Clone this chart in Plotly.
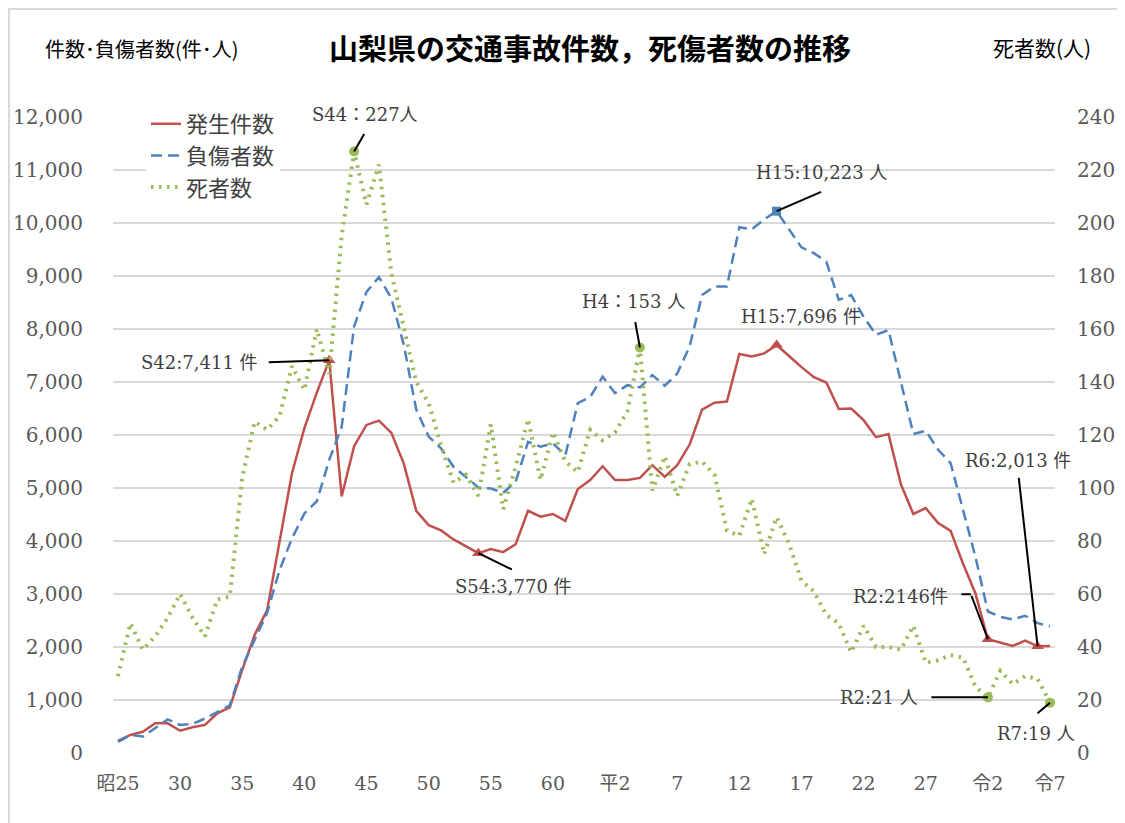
import plotly.graph_objects as go

# ---------------- data ----------------
years = list(range(1950, 2026))

accidents = [230, 340, 400, 560, 560, 420, 485, 530, 750, 860,
             1570, 2230, 2690, 3960, 5280, 6130, 6800, 7411, 4840, 5790,
             6190, 6270, 6040, 5460, 4570, 4300, 4200, 4030, 3900, 3770,
             3850, 3790, 3940, 4570, 4460, 4510, 4380, 4980, 5150, 5410,
             5150, 5150, 5190, 5430, 5210, 5430, 5820, 6480, 6610, 6630,
             7530, 7480, 7540, 7696, 7490, 7280, 7090, 6990, 6490, 6500,
             6280, 5960, 6020, 5070, 4510, 4620, 4340, 4190, 3570, 3010,
             2146, 2090, 2020, 2120, 2013, 2020]

injuries = [210, 340, 310, 465, 635, 530, 550, 650, 780, 900,
            1630, 2130, 2640, 3450, 4050, 4520, 4750, 5530, 6150, 8050,
            8700, 8980, 8580, 7700, 6480, 5970, 5750, 5400, 5210, 5010,
            4990, 4910, 5120, 5870, 5780, 5840, 5620, 6600, 6720, 7100,
            6790, 6940, 6900, 7130, 6930, 7160, 7670, 8640, 8800, 8800,
            9920, 9880, 10070, 10223, 9880, 9540, 9430, 9270, 8550, 8640,
            8230, 7890, 7980, 6980, 6020, 6080, 5720, 5470, 4590, 3700,
            2670, 2570, 2520, 2590, 2450, 2390]

deaths = [29, 49, 39, 44, 51, 60, 51, 44, 58, 59,
          104, 125, 122, 127, 146, 137, 160, 143, 195, 227,
          207, 222, 181, 160, 140, 132, 116, 102, 105, 97,
          124, 92, 108, 126, 103, 121, 110, 106, 122, 118,
          121, 129, 153, 99, 112, 97, 109, 110, 105, 84,
          82, 96, 75, 89, 79, 65, 61, 52, 49, 38,
          48, 40, 40, 39, 48, 34, 35, 37, 36, 25,
          21, 31, 26, 29, 28, 19]

tick_years = [1950, 1955, 1960, 1965, 1970, 1975, 1980, 1985, 1990,
              1995, 2000, 2005, 2010, 2015, 2020, 2025]
tick_labels = ["昭25", "30", "35", "40", "45", "50", "55", "60", "平2",
               "7", "12", "17", "22", "27", "令2", "令7"]

series_names = ["発生件数", "負傷者数", "死者数"]

red_mark_years = [1967, 1979, 2003, 2020, 2024]
blue_mark_years = [2003]
green_mark_years = [1969, 1992, 2020, 2025]

# ---------------- style ----------------
RED = "#c0504d"
BLUE = "#4f81bd"
GREEN = "#9bbb59"
GRID = "#d9d9d9"
TXT = "#404040"
NUM_FONT = "DejaVu Serif, Noto Sans CJK JP"
JP_FONT = "Noto Sans CJK JP"

OFF = 8  # page body margin of the html page
W, H = 1125 - OFF, 823 - OFF
ML, MT = 113 - OFF, 117 - OFF
PW, PH = 942, 636
MR, MB = W - ML - PW, H - MT - PH


def px_x(px):
    # screenshot pixel -> paper x
    return (px - OFF - ML) / PW


def px_y(py):
    # screenshot pixel -> paper y
    return (MT + PH - (py - OFF)) / PH


def val(arr, yr):
    return arr[years.index(yr)]


fig = go.Figure()
fig.add_trace(go.Scatter(x=years, y=accidents, name=series_names[0], mode="lines",
                         line=dict(color=RED, width=2.5)))
fig.add_trace(go.Scatter(x=years, y=injuries, name=series_names[1], mode="lines",
                         line=dict(color=BLUE, width=2.5, dash="11px,6px")))
fig.add_trace(go.Scatter(x=years, y=deaths, name=series_names[2], mode="lines", yaxis="y2",
                         line=dict(color=GREEN, width=4, dash="2.5px,5.5px")))

fig.add_trace(go.Scatter(x=red_mark_years, y=[val(accidents, y) for y in red_mark_years],
                         mode="markers", showlegend=False, hoverinfo="skip",
                         marker=dict(symbol="triangle-up", size=11, color=RED)))
fig.add_trace(go.Scatter(x=blue_mark_years, y=[val(injuries, y) for y in blue_mark_years],
                         mode="markers", showlegend=False, hoverinfo="skip",
                         marker=dict(symbol="square", size=9, color=BLUE)))
fig.add_trace(go.Scatter(x=green_mark_years, y=[val(deaths, y) for y in green_mark_years],
                         mode="markers", showlegend=False, hoverinfo="skip", yaxis="y2",
                         marker=dict(symbol="circle", size=10, color=GREEN)))

ann = []
afont = dict(family=NUM_FONT, size=18, color=TXT)


def label(text, yr, arr, yref, xs, ys, xanchor="center"):
    ann.append(dict(x=yr, y=val(arr, yr), xref="x", yref=yref, text=text, showarrow=False,
                    xshift=xs, yshift=ys, xanchor=xanchor, yanchor="middle", font=afont))


def leader(yr, arr, yref, ax, ay, xs=0, ys=0):
    ann.append(dict(x=yr, y=val(arr, yr), xref="x", yref=yref, text="", showarrow=True,
                    arrowhead=0, arrowwidth=2, arrowcolor="black", ax=ax, ay=ay,
                    xshift=xs, yshift=ys, standoff=0, startstandoff=0))


# S44 deaths 227
label("S44：227人", 1969, deaths, "y2", 11, 37)
leader(1969, deaths, "y2", 11, -19)
# S42 accidents
label("S42:7,411 件", 1967, accidents, "y", -69, -2, "right")
leader(1967, accidents, "y", -62, 2)
# S54 accidents
label("S54:3,770 件", 1979, accidents, "y", 35, -33)
leader(1979, accidents, "y", 35, 17)
# H4 deaths
label("H4：153 人", 1992, deaths, "y2", -6, 46)
leader(1992, deaths, "y2", -5, -27)
# H15 injuries
label("H15:10,223 人", 2003, injuries, "y", 45, 39)
leader(2003, injuries, "y", 46, -20)
# H15 accidents
label("H15:7,696 件", 2003, accidents, "y", 24, 29)
# R6 accidents
label("R6:2,013 件", 2024, accidents, "y", -20, 186)
leader(2024, accidents, "y", -19, -170)
# R2 accidents (elbow)
label("R2:2146件", 2020, accidents, "y", -38, 43, "right")
leader(2020, accidents, "y", -17, -45)
leader(2020, accidents, "y", -11, 0, xs=-17, ys=45)
# R2 deaths
label("R2:21 人", 2020, deaths, "y2", -68, 0, "right")
leader(2020, deaths, "y2", -58, 0)
# R7 deaths
label("R7:19 人", 2025, deaths, "y2", -14, -31)
leader(2025, deaths, "y2", -14, 12)

# axis titles
ann.append(dict(x=px_x(142), y=px_y(48), xref="paper", yref="paper", showarrow=False,
                text="件数･負傷者数(件･人)", font=dict(family=JP_FONT, size=20, color="#000000"),
                xanchor="center", yanchor="middle"))
ann.append(dict(x=px_x(1042), y=px_y(47), xref="paper", yref="paper", showarrow=False,
                text="死者数(人)", font=dict(family=JP_FONT, size=21, color="#000000"),
                xanchor="center", yanchor="middle"))

fig.update_layout(
    width=W, height=H,
    margin=dict(l=ML, r=MR, t=MT, b=MB, autoexpand=False),
    paper_bgcolor="white", plot_bgcolor="white",
    title=dict(text="<b>山梨県の交通事故件数，死傷者数の推移</b>",
               x=(590 - OFF) / W, y=1 - (50 - OFF) / H,
               xanchor="center", yanchor="middle",
               font=dict(family=JP_FONT, size=29, color="#000000")),
    xaxis=dict(range=[1949.6, 2025.4], tickvals=tick_years, ticktext=tick_labels,
               showgrid=False, zeroline=False, showline=False, ticks="",
               ticklabelstandoff=17,
               tickfont=dict(family=NUM_FONT, size=19, color="#595959")),
    yaxis=dict(range=[0, 12000], dtick=1000, tickformat=",d", showgrid=True,
               gridcolor=GRID, gridwidth=2, zeroline=False, showline=False, ticks="",
               ticklabelstandoff=29,
               tickfont=dict(family=NUM_FONT, size=20, color="#595959")),
    yaxis2=dict(range=[0, 240], dtick=20, overlaying="y", side="right", showgrid=False,
                zeroline=False, showline=False, ticks="", ticklabelstandoff=21,
                tickfont=dict(family=NUM_FONT, size=20, color="#595959")),
    legend=dict(x=px_x(146), y=px_y(103), xanchor="left", yanchor="top",
                bgcolor="white", borderwidth=0, tracegroupgap=0,
                font=dict(family=JP_FONT, size=22, color=TXT)),
    annotations=ann,
    shapes=[dict(type="rect", xref="paper", yref="paper",
                 x0=px_x(9), x1=px_x(1140), y0=px_y(840), y1=px_y(9),
                 line=dict(color=GRID, width=2), fillcolor="rgba(0,0,0,0)", layer="below")],
    showlegend=True,
)

fig.write_html("out.html")
